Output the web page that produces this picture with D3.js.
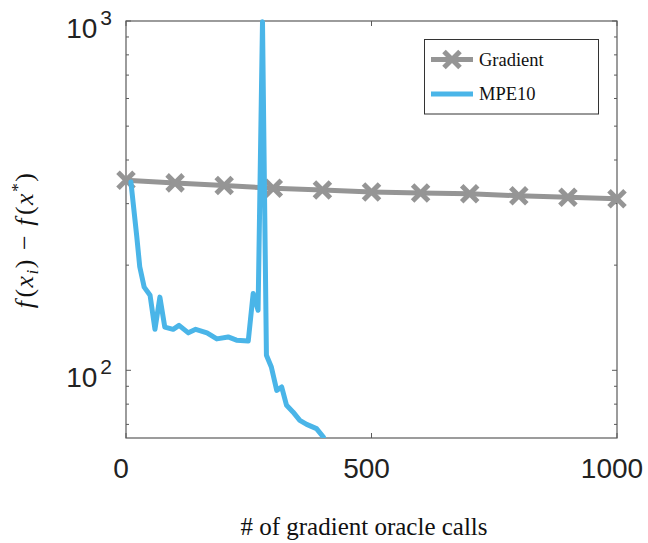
<!DOCTYPE html>
<html>
<head>
<meta charset="utf-8">
<script src="https://cdn.jsdelivr.net/npm/d3@7"></script>
<style>
  html, body { margin: 0; padding: 0; background: #fff; }
  .serif { font-family: "Liberation Serif", "Times New Roman", serif; }
  .sans { font-family: "Liberation Sans", Arial, sans-serif; }
</style>
</head>
<body>
<svg id="chart"></svg>
<script>
// gradient descent, marker every 100 calls
const gradX = [0, 100, 200, 300, 400, 500, 600, 700, 800, 900, 1000];
const gradY = [350, 344, 338, 332, 328, 324, 322, 320, 316, 313, 310];

// MPE10 trace
const mpeX = [10, 22, 28, 37, 49, 59, 69, 79, 96, 108, 127, 142, 165, 185, 208, 225, 249, 259, 269, 278, 286, 296, 307, 317, 327, 340, 354, 368, 388, 402];
const mpeY = [346, 241, 198, 173, 164, 131, 162, 133, 131, 134.5, 128, 131, 128, 123, 124.6, 122, 121.3, 166, 148.5, 995, 110.4, 102.2, 87.6, 89.6, 79.4, 76, 71.9, 70, 68.1, 64.4];

const xTicks = [0, 500, 1000];
const yMajor = [100, 1000];
const yMinor = [70, 80, 90, 200, 300, 400, 500, 600, 700, 800, 900];

const width = 648, height = 543;
const margin = { top: 21, right: 31, bottom: 105, left: 126 };
const grayCol = "#959595";
const blueCol = "#4ab5e8";
const axisCol = "#5a5a5a";

const svg = d3.select("#chart").attr("width", width).attr("height", height);

const x = d3.scaleLinear().domain([0, 1000]).range([margin.left, width - margin.right]);
const y = d3.scaleLog().domain([64, 1000]).range([height - margin.bottom, margin.top]);

const x0 = x.range()[0], x1 = x.range()[1];
const y0 = y.range()[0], y1 = y.range()[1];

svg.append("defs").append("clipPath").attr("id", "plotClip")
  .append("rect")
  .attr("x", x0).attr("y", y1 - 4)
  .attr("width", x1 - x0).attr("height", y0 - y1 + 4);

// ticks (inside, on all four sides)
const tk = svg.append("g").attr("stroke", axisCol).attr("stroke-width", 1);
xTicks.forEach(v => {
  tk.append("line").attr("x1", x(v)).attr("x2", x(v)).attr("y1", y0).attr("y2", y0 - 5);
  tk.append("line").attr("x1", x(v)).attr("x2", x(v)).attr("y1", y1).attr("y2", y1 + 5);
});
yMajor.forEach(v => {
  tk.append("line").attr("x1", x0).attr("x2", x0 + 5).attr("y1", y(v)).attr("y2", y(v));
  tk.append("line").attr("x1", x1).attr("x2", x1 - 5).attr("y1", y(v)).attr("y2", y(v));
});
yMinor.forEach(v => {
  tk.append("line").attr("x1", x0).attr("x2", x0 + 3).attr("y1", y(v)).attr("y2", y(v));
  tk.append("line").attr("x1", x1).attr("x2", x1 - 3).attr("y1", y(v)).attr("y2", y(v));
});

// box
svg.append("rect")
  .attr("x", x0).attr("y", y1)
  .attr("width", x1 - x0).attr("height", y0 - y1)
  .attr("fill", "none").attr("stroke", axisCol).attr("stroke-width", 1.2);

// x tick labels
svg.append("g").selectAll("text")
  .data(xTicks)
  .join("text")
  .attr("class", "sans")
  .attr("x", d => x(d) - 5)
  .attr("y", y0 + 40)
  .attr("text-anchor", "middle")
  .attr("font-size", 28)
  .attr("fill", "#222")
  .text(d => d);

// y tick labels 10^n
const yl = svg.append("g");
yMajor.forEach(v => {
  const t = yl.append("text")
    .attr("class", "sans")
    .attr("x", x0 - 14)
    .attr("y", y(v) + 16.5)
    .attr("text-anchor", "end")
    .attr("font-size", 28)
    .attr("fill", "#222");
  t.append("tspan").text("10");
  t.append("tspan").attr("dy", -13).attr("dx", 3).attr("font-size", 21).text(Math.round(Math.log10(v)));
});

// gradient line + X markers
const line = d3.line().x(d => x(d[0])).y(d => y(d[1]));
const gradData = d3.zip(gradX, gradY);
svg.append("path")
  .datum(gradData)
  .attr("d", line)
  .attr("fill", "none")
  .attr("stroke", grayCol)
  .attr("stroke-width", 5)
  .attr("stroke-linejoin", "round");

const ms = 8;
svg.append("g").selectAll("path")
  .data(gradData)
  .join("path")
  .attr("d", d => {
    const cx = x(d[0]), cy = y(d[1]);
    return `M${cx - ms},${cy - ms}L${cx + ms},${cy + ms}M${cx - ms},${cy + ms}L${cx + ms},${cy - ms}`;
  })
  .attr("stroke", grayCol)
  .attr("stroke-width", 5)
  .attr("fill", "none");

// MPE10 line
svg.append("path")
  .datum(d3.zip(mpeX, mpeY))
  .attr("clip-path", "url(#plotClip)")
  .attr("d", line)
  .attr("fill", "none")
  .attr("stroke", blueCol)
  .attr("stroke-width", 5)
  .attr("stroke-linejoin", "round")
  .attr("stroke-linecap", "round");

// legend
const lg = svg.append("g");
lg.append("rect")
  .attr("x", 424.5).attr("y", 39.5).attr("width", 174).attr("height", 74.5)
  .attr("fill", "#fff").attr("stroke", "#333").attr("stroke-width", 1);
const legendItems = [
  { name: "Gradient", color: grayCol, marker: true, yy: 59.5 },
  { name: "MPE10", color: blueCol, marker: false, yy: 94 }
];
legendItems.forEach(it => {
  lg.append("line")
    .attr("x1", 431).attr("x2", 473).attr("y1", it.yy).attr("y2", it.yy)
    .attr("stroke", it.color).attr("stroke-width", 5);
  if (it.marker) {
    const cx = 452, cy = it.yy;
    lg.append("path")
      .attr("d", `M${cx - ms},${cy - ms}L${cx + ms},${cy + ms}M${cx - ms},${cy + ms}L${cx + ms},${cy - ms}`)
      .attr("stroke", it.color).attr("stroke-width", 5);
  }
  lg.append("text")
    .attr("class", "serif")
    .attr("x", 479).attr("y", it.yy + 6)
    .attr("font-size", 18.5)
    .attr("fill", "#111")
    .text(it.name);
});

// x axis label
svg.append("text")
  .attr("class", "serif")
  .attr("x", 364).attr("y", 535)
  .attr("text-anchor", "middle")
  .attr("font-size", 25)
  .attr("fill", "#111")
  .text("# of gradient oracle calls");

// y axis label: f(x_i) - f(x^*)
const ylab = svg.append("text")
  .attr("class", "serif")
  .attr("transform", "translate(33,240) rotate(-90)")
  .attr("text-anchor", "middle")
  .attr("font-size", 26)
  .attr("letter-spacing", 1.5)
  .attr("fill", "#111");
ylab.append("tspan").attr("font-style", "italic").text("f");
ylab.append("tspan").attr("dx", 2).text("(");
ylab.append("tspan").attr("font-style", "italic").text("x");
ylab.append("tspan").attr("font-style", "italic").attr("font-size", 17).attr("dy", 5).text("i");
ylab.append("tspan").attr("dy", -5).text(")");
ylab.append("tspan").attr("dx", 8).text("\u2212");
ylab.append("tspan").attr("dx", 8).attr("font-style", "italic").text("f");
ylab.append("tspan").attr("dx", 2).text("(");
ylab.append("tspan").attr("font-style", "italic").text("x");
ylab.append("tspan").attr("font-size", 17).attr("dy", -10).text("*");
ylab.append("tspan").attr("dy", 10).text(")");
</script>
</body>
</html>
